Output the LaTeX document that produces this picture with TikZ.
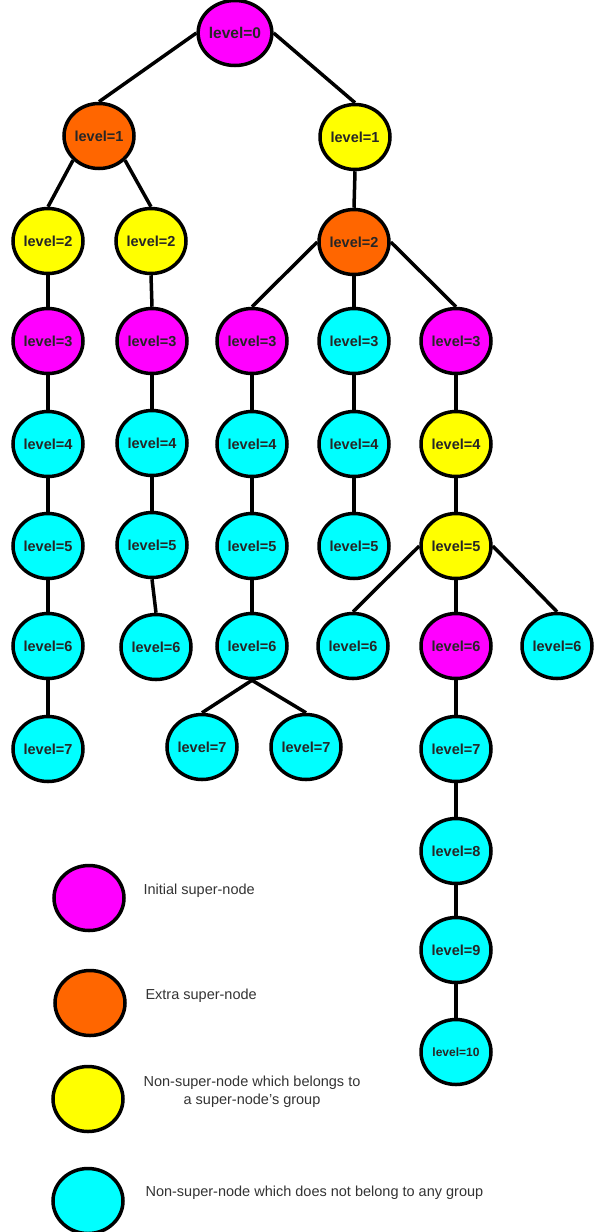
\documentclass[tikz,border=0pt]{standalone}
\usepackage{fontspec}
\setmainfont{Liberation Sans}
\usetikzlibrary{shapes.geometric}
\definecolor{initcol}{RGB}{255,0,255}
\definecolor{extracol}{RGB}{255,102,0}
\definecolor{groupcol}{RGB}{255,255,0}
\definecolor{freecol}{RGB}{0,255,255}
\tikzset{
    lvl/.style={ellipse, draw=black, line width=3.5pt, minimum width=70pt, minimum height=65pt,
        inner sep=0pt, font=\fontsize{14.5}{16}\selectfont\bfseries, text=black!85},
    init/.style={lvl, fill=initcol},
    extra/.style={lvl, fill=extracol},
    grp/.style={lvl, fill=groupcol},
    free/.style={lvl, fill=freecol},
    edge/.style={line width=3.5pt},
    legtext/.style={font=\fontsize{14.5}{18}\selectfont, text=black!80}
}
\begin{document}
\begin{tikzpicture}[x=1pt,y=-1pt]
        \useasboundingbox (0,0) rectangle (595,1232);
        % tree
        \node[init, font=\fontsize{15.5}{16}\selectfont\bfseries] (r0) at (235,33) {level=0};
        \node[extra] (a1) at (99,136) {level=1};
        \node[grp] (e1) at (355,137) {level=1};
        \node[grp] (a2) at (48,241) {level=2};
        \node[grp] (c2) at (151,241) {level=2};
        \node[extra] (e2) at (354,242) {level=2};
        \node[init] (a3) at (48,341) {level=3};
        \node[init] (c3) at (152,341) {level=3};
        \node[init] (d3) at (252,341) {level=3};
        \node[free] (e3) at (354,341) {level=3};
        \node[init] (f3) at (456,341) {level=3};
        \node[free] (a4) at (48,444) {level=4};
        \node[free] (c4) at (152,443) {level=4};
        \node[free] (d4) at (252,444) {level=4};
        \node[free] (e4) at (354,444) {level=4};
        \node[grp] (f4) at (456,444) {level=4};
        \node[free] (a5) at (48,546) {level=5};
        \node[free] (c5) at (152,545) {level=5};
        \node[free] (d5) at (252,546) {level=5};
        \node[free] (e5) at (354,546) {level=5};
        \node[grp] (f5) at (456,546) {level=5};
        \node[free] (a6) at (48,646) {level=6};
        \node[free] (c6) at (156,647) {level=6};
        \node[free] (d6) at (252,646) {level=6};
        \node[free] (e6) at (353,646) {level=6};
        \node[init] (f6) at (456,646) {level=6};
        \node[free] (h6) at (557,646) {level=6};
        \node[free] (a7) at (48,749) {level=7};
        \node[free] (d7) at (202,747) {level=7};
        \node[free] (g7) at (306,747) {level=7};
        \node[free] (f7) at (456,749) {level=7};
        \node[free] (f8) at (456,851) {level=8};
        \node[free] (f9) at (456,950) {level=9};
        \node[free, font=\fontsize{12}{14}\selectfont\bfseries] (f10) at (456,1052) {level=10};
        % edges
        \draw[edge] (r0.west) -- (a1.north);
        \draw[edge] (r0.east) -- (e1.north);
        \draw[edge] (a1.south west) -- (a2.north);
        \draw[edge] (a1.south east) -- (c2.north);
        \draw[edge] (e1.south) -- (e2.north);
        \draw[edge] (e2.west) -- (d3.north);
        \draw[edge] (e2.south) -- (e3.north);
        \draw[edge] (e2.east) -- (f3.north);
        \draw[edge] (a2.south) -- (a3.north);
        \draw[edge] (c2.south) -- (c3.north);
        \draw[edge] (a3.south) -- (a4.north);
        \draw[edge] (c3.south) -- (c4.north);
        \draw[edge] (d3.south) -- (d4.north);
        \draw[edge] (e3.south) -- (e4.north);
        \draw[edge] (f3.south) -- (f4.north);
        \draw[edge] (a4.south) -- (a5.north);
        \draw[edge] (c4.south) -- (c5.north);
        \draw[edge] (d4.south) -- (d5.north);
        \draw[edge] (e4.south) -- (e5.north);
        \draw[edge] (f4.south) -- (f5.north);
        \draw[edge] (a5.south) -- (a6.north);
        \draw[edge] (c5.south) -- (c6.north);
        \draw[edge] (d5.south) -- (d6.north);
        \draw[edge] (f5.west) -- (e6.north);
        \draw[edge] (f5.south) -- (f6.north);
        \draw[edge] (f5.east) -- (h6.north);
        \draw[edge] (a6.south) -- (a7.north);
        \draw[edge] (d6.south) -- (d7.north);
        \draw[edge] (d6.south) -- (g7.north);
        \draw[edge] (f6.south) -- (f7.north);
        \draw[edge] (f7.south) -- (f8.north);
        \draw[edge] (f8.south) -- (f9.north);
        \draw[edge] (f9.south) -- (f10.north);
        % legend
        \node[init] (leginit) at (89,898) {};
        \node[extra] (legextra) at (90,1003) {};
        \node[grp] (leggrp) at (88,1099) {};
        \node[free] (legfree) at (88,1201) {};
        \node[legtext, anchor=west] (txtinit) at (140,891) {Initial super-node};
        \node[legtext, anchor=west] (txtextra) at (142,996) {Extra super-node};
        \node[legtext, align=center] (txtgrp) at (252,1092) {Non-super-node which belongs to\\a super-node's group};
        \node[legtext, anchor=west] (txtfree) at (142,1193) {Non-super-node which does not belong to any group};
\end{tikzpicture}
\end{document}
